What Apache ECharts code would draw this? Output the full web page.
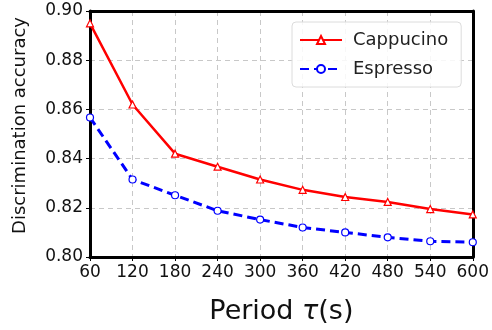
<!DOCTYPE html>
<html>
<head>
<meta charset="utf-8">
<script src="https://cdn.jsdelivr.net/npm/echarts@6/dist/echarts.min.js"></script>
<style>
  html, body { margin: 0; padding: 0; background: #fff; }
  #chart { width: 492px; height: 330px; }
</style>
</head>
<body>
<div id="chart"></div>
<script>
// periods in seconds
const periods = [60, 120, 180, 240, 300, 360, 420, 480, 540, 600]
const cappucino = [0.895, 0.862, 0.842, 0.8367, 0.8315, 0.8273, 0.8244, 0.8224, 0.8195, 0.8173]
const espresso = [0.8567, 0.8315, 0.8251, 0.8188, 0.8152, 0.812, 0.810, 0.808, 0.8064, 0.806]

const font = 'DejaVu Sans'
const gridLine = { show: true, lineStyle: { color: '#c8c8c8', type: [5, 4], width: 1 } }
const frameLine = { show: true, onZero: false, lineStyle: { color: '#000', width: 3 } }

const pairs = (ys) => periods.map((p, i) => [p, ys[i]])

const chart = echarts.init(document.getElementById('chart'), null, { renderer: 'canvas' })

chart.setOption({
  animation: false,
  backgroundColor: '#fff',
  textStyle: { fontFamily: font },
  grid: { left: 90, right: 17, top: 11, bottom: 69 },
  legend: {
    left: 292, top: 22,
    orient: 'vertical',
    itemGap: 11,
    itemWidth: 42, itemHeight: 10,
    backgroundColor: 'rgba(255,255,255,0.85)',
    borderColor: '#dcdcdc', borderWidth: 1, borderRadius: 4,
    padding: [9, 13, 9, 7],
    textStyle: { fontFamily: font, fontSize: 18, color: '#222', padding: [0, 0, 0, 6] },
    data: ['Cappucino', 'Espresso'],
    z: 12
  },
  xAxis: [{
    type: 'value',
    min: 60, max: 600, interval: 60,
    name: '{n|Period }{t|τ}{n|(s)}',
    nameLocation: 'middle',
    nameGap: 41,
    nameTextStyle: {
      rich: {
        n: { fontFamily: font, fontSize: 27, color: '#111' },
        t: { fontFamily: font, fontSize: 27, color: '#111', fontStyle: 'italic' }
      }
    },
    axisLine: frameLine,
    axisTick: { show: true, length: 4, lineStyle: { color: '#000' } },
    axisLabel: { fontFamily: font, fontSize: 17, color: '#111', margin: 7 },
    splitLine: gridLine
  }, {
    // top edge of the box
    type: 'value', position: 'top', min: 60, max: 600, interval: 60,
    axisLine: frameLine,
    axisTick: { show: false }, axisLabel: { show: false }, splitLine: { show: false }
  }],
  yAxis: [{
    type: 'value',
    min: 0.80, max: 0.90, interval: 0.02,
    axisLine: frameLine,
    axisTick: { show: true, length: 4, lineStyle: { color: '#000' } },
    axisLabel: { fontFamily: font, fontSize: 17, color: '#111', margin: 7,
      formatter: (v) => v.toFixed(2) },
    splitLine: gridLine
  }, {
    // right edge of the box
    type: 'value', position: 'right', min: 0.80, max: 0.90, interval: 0.02,
    axisLine: frameLine,
    axisTick: { show: false }, axisLabel: { show: false }, splitLine: { show: false }
  }],
  graphic: [{
    type: 'text',
    left: 11, top: 17,
    rotation: Math.PI / 2,
    style: { text: 'Discrimination accuracy', fontFamily: font, fontSize: 18, fill: '#111' }
  }],
  series: [
    {
      name: 'Cappucino',
      type: 'line',
      data: pairs(cappucino),
      symbol: 'triangle',
      symbolSize: 7,
      showAllSymbol: true,
      color: '#ff0000',
      lineStyle: { color: '#ff0000', width: 2.5 },
      itemStyle: { color: '#fff', borderColor: '#ff0000', borderWidth: 1.2 },
      z: 3
    },
    {
      name: 'Espresso',
      type: 'line',
      data: pairs(espresso),
      symbol: 'circle',
      symbolSize: 7,
      showAllSymbol: true,
      color: '#0000ff',
      lineStyle: { color: '#0000ff', width: 3, type: [9, 5] },
      itemStyle: { color: '#fff', borderColor: '#0000ff', borderWidth: 1.2 },
      z: 3
    }
  ]
})
</script>
</body>
</html>
